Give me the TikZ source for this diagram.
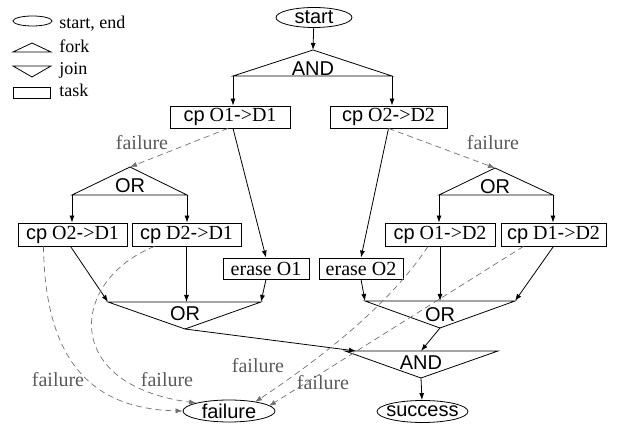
\documentclass[tikz,border=0pt]{standalone}
\usepackage{fontspec}
\setmainfont{Liberation Serif}
\setsansfont{Liberation Sans}
\usetikzlibrary{shapes.geometric,arrows.meta}
\definecolor{failline}{HTML}{707070}
\definecolor{failtext}{HTML}{5A5A5A}
\begin{document}
\begin{tikzpicture}[x=1pt,y=-1pt,line width=0.8pt,
  every node/.style={inner sep=0pt,font=\fontsize{20}{22}\selectfont},
  sftext/.style={font=\fontsize{20}{22}\selectfont\sffamily},
  legtext/.style={anchor=base west,font=\fontsize{18}{20}\selectfont},
  termnode/.style={draw,ellipse,minimum height=22pt},
  tasknode/.style={draw,rectangle,minimum height=22pt},
  gate/.style={draw,line join=miter},
  arr/.style={-{Latex[length=7pt,width=5pt]}},
  failarr/.style={-{Latex[length=7pt,width=5pt]},draw=failline,line width=0.7pt,dash pattern=on 6pt off 4pt},
  faillabel/.style={anchor=base,text=failtext}]
\useasboundingbox (0,0) rectangle (622,427);

% legend
\node[draw,ellipse,minimum width=39pt,minimum height=10pt] (lgE) at (32.5,21) {};
\node[legtext] (lgEt) at (59,29) {start, end};
\coordinate (lgFA) at (32,43); \coordinate (lgFL) at (13,52); \coordinate (lgFR) at (51,52);
\draw[gate] (lgFA) -- (lgFL) -- (lgFR) -- cycle;
\node[legtext] (lgFt) at (59,53) {fork};
\coordinate (lgJA) at (32,77); \coordinate (lgJL) at (13,66); \coordinate (lgJR) at (51,66);
\draw[gate] (lgJA) -- (lgJL) -- (lgJR) -- cycle;
\node[legtext] (lgJt) at (59,75) {join};
\node[draw,rectangle,minimum width=37pt,minimum height=11pt] (lgT) at (31.5,92.5) {};
\node[legtext] (lgTt) at (59,97) {task};

% start
\node[termnode,minimum width=76pt,minimum height=20pt] (start) at (314,17.5) {};
\node[sftext] (startT) at (start) {start};

% AND fork
\coordinate (andA) at (313,50); \coordinate (andL) at (233,76); \coordinate (andR) at (392,76);
\draw[gate] (andA) -- (andL) -- (andR) -- cycle;
\node[sftext] (andT) at (313,68.5) {AND};

% top tasks
\node[tasknode,minimum width=120pt] (cp1) at (230,117) {{\sffamily cp} O1{\sffamily -}>D1};
\node[tasknode,minimum width=117pt] (cp2) at (388.5,117) {{\sffamily cp} O2{\sffamily -}>D2};

% left OR fork
\coordinate (oLA) at (130,167); \coordinate (oLL) at (72,195); \coordinate (oLR) at (187,195);
\draw[gate] (oLA) -- (oLL) -- (oLR) -- cycle;
\node[sftext] (oLT) at (130,186) {OR};

% right OR fork
\coordinate (oRA) at (495,168); \coordinate (oRL) at (439,195); \coordinate (oRR) at (553,195);
\draw[gate] (oRA) -- (oRL) -- (oRR) -- cycle;
\node[sftext] (oRT) at (495,186.5) {OR};

% second row tasks
\node[tasknode,minimum width=109pt,minimum height=23pt] (cpa) at (72.5,234.5) {{\sffamily cp} O2{\sffamily -}>D1};
\node[tasknode,minimum width=109pt,minimum height=23pt] (cpb) at (186.5,234.5) {{\sffamily cp} D2{\sffamily -}>D1};
\node[tasknode,minimum width=110pt,minimum height=23pt] (cpc) at (440,234.5) {{\sffamily cp} O1{\sffamily -}>D2};
\node[tasknode,minimum width=105pt,minimum height=23pt] (cpd) at (553.5,234.5) {{\sffamily cp} D1{\sffamily -}>D2};
\node[tasknode,minimum width=86pt,minimum height=21pt] (erase1) at (266,268.5) {erase O1};
\node[tasknode,minimum width=84pt,minimum height=21pt] (erase2) at (361,268.5) {erase O2};

% left OR join
\coordinate (jLA) at (185,329); \coordinate (jLL) at (108,302); \coordinate (jLR) at (261,302);
\draw[gate] (jLA) -- (jLL) -- (jLR) -- cycle;
\node[sftext] (jLT) at (185,313.5) {OR};

% right OR join
\coordinate (jRA) at (440,328); \coordinate (jRL) at (365,301); \coordinate (jRR) at (515,301);
\draw[gate] (jRA) -- (jRL) -- (jRR) -- cycle;
\node[sftext] (jRT) at (440,314.5) {OR};

% AND join
\coordinate (aJA) at (421,378); \coordinate (aJL) at (345,351); \coordinate (aJR) at (498,351);
\draw[gate] (aJA) -- (aJL) -- (aJR) -- cycle;
\node[sftext] (aJT) at (421,362.5) {AND};
\coordinate (aJin) at (356,351); \coordinate (aJtop) at (421,351);

% end nodes
\node[termnode,minimum width=92pt] (failure) at (229,411) {};
\node[sftext] (failureT) at (failure) {failure};
\node[termnode,minimum width=91pt] (success) at (422.5,411.5) {};
\node[sftext] (successT) at (success) {success};

% solid connectors
\draw[arr] (start) -- (andA);
\draw[arr] (andL) -- (andL |- cp1.north);
\draw[arr] (andR) -- (andR |- cp2.north);
\draw[arr] ([xshift=3pt]cp1.south) -- (erase1.north);
\draw[arr] (cp2.south) -- (erase2.north);
\draw[arr] (oLL) -- (oLL |- cpa.north);
\draw[arr] (oLR) -- (oLR |- cpb.north);
\draw[arr] (oRL) -- (oRL |- cpc.north);
\draw[arr] (oRR) -- (oRR |- cpd.north);
\draw[arr] ([xshift=-2pt]cpa.south) -- (jLL);
\draw[arr] (cpb.south) -- (cpb.south |- jLL);
\draw[arr] (erase1.south) -- (jLR);
\draw[arr] (erase2.south) -- (jRL);
\draw[arr] (cpc.south) -- (cpc.south |- jRL);
\draw[arr] (cpd.south) -- (jRR);
\draw[arr] (jLA) -- (aJin);
\draw[arr] (jRA) -- (aJtop);
\draw[arr] (aJA) -- (success);

% failure connectors
\draw[failarr] ([xshift=-2pt]cp1.south) -- (oLA);
\draw[failarr] (cp2.south) -- (oRA);
\node[faillabel] (fl1) at (142,150) {failure};
\node[faillabel] (fl2) at (493,150) {failure};

\draw[failarr] ([xshift=-29pt]cpa.south) .. controls (45,365) and (95,409) .. (failure.west);
\draw[failarr] ([xshift=-32pt]cpb.south) .. controls (70,280) and (60,385) .. (failure.north west);
\draw[failarr] ([xshift=-12pt]cpc.south) .. controls (396,295) and (338,347) .. ([shift={(26,-9)}]failure.center);
\draw[failarr] ([xshift=-30pt]cpd.south) -- ([shift={(40,-5)}]failure.center);
\node[faillabel] (fl3) at (58,387) {failure};
\node[faillabel] (fl4) at (167,387) {failure};
\node[faillabel] (fl5) at (258,373) {failure};
\node[faillabel] (fl6) at (323,390) {failure};
\end{tikzpicture}
\end{document}
